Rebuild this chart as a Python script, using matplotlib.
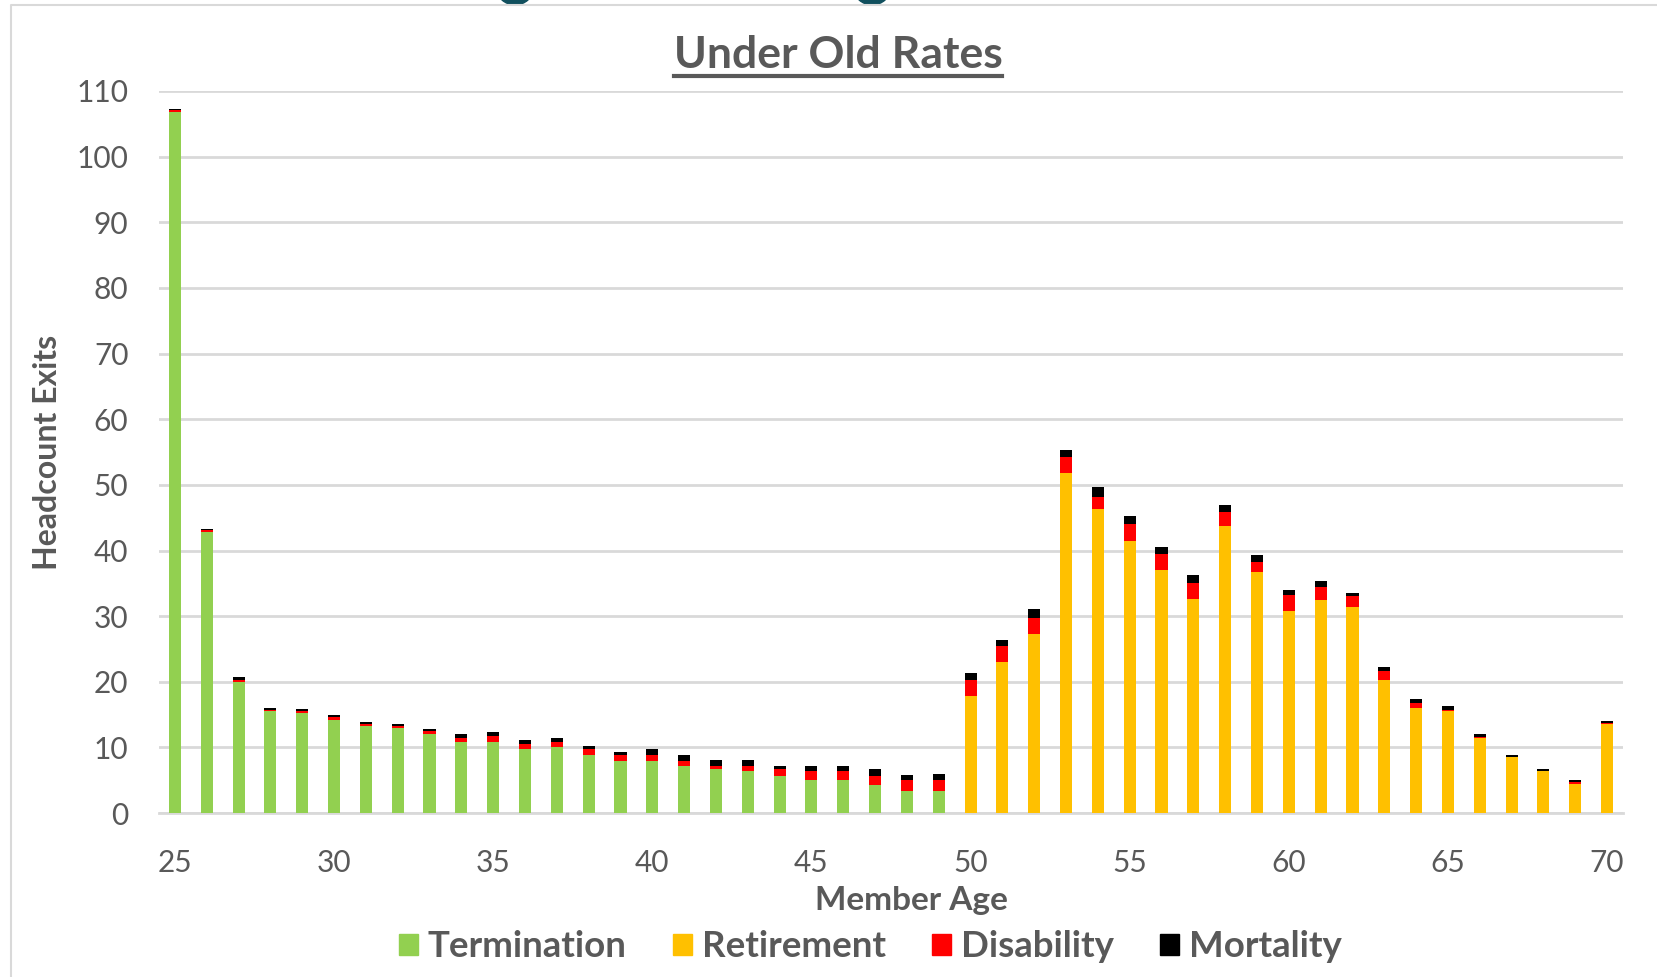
import numpy as np
import matplotlib
matplotlib.use("Agg")
import matplotlib.pyplot as plt
from matplotlib.patches import Rectangle, Ellipse
from matplotlib.lines import Line2D

plt.rcParams['font.family'] = ['Lato', 'DejaVu Sans']

# data (headcount exits by member age)
ages = list(range(25, 71))
termination = [106.8, 42.8, 20.0, 15.5, 15.2, 14.2, 13.3, 13.0, 12.0, 10.9,
               10.9, 9.8, 10.0, 8.9, 8.0, 8.0, 7.2, 6.7, 6.4, 5.6,
               5.1, 5.1, 4.3, 3.4, 3.4] + [0] * 21
retirement = [0] * 25 + [17.9, 23.0, 27.3, 51.8, 46.3, 41.5, 37.0, 32.6, 43.7, 36.7,
                         30.8, 32.4, 31.4, 20.3, 16.0, 15.5, 11.4, 8.5, 6.35, 4.5, 13.6]
disability = [0.3, 0.3, 0.3, 0.2, 0.3, 0.4, 0.3, 0.3, 0.5, 0.6,
              0.8, 0.8, 0.8, 0.9, 0.8, 0.8, 0.8, 0.5, 0.8, 1.1,
              1.3, 1.3, 1.3, 1.6, 1.7, 2.4, 2.4, 2.4, 2.4, 1.9,
              2.6, 2.4, 2.4, 2.1, 1.6, 2.4, 2.1, 1.6, 1.4, 0.8,
              0.25, 0.25, 0.1, 0.1, 0.25, 0.1]
mortality = [0.2, 0.2, 0.5, 0.3, 0.3, 0.3, 0.3, 0.3, 0.3, 0.5,
             0.6, 0.5, 0.6, 0.5, 0.5, 0.9, 0.8, 0.9, 0.9, 0.5,
             0.8, 0.8, 1.2, 0.8, 0.8, 1.1, 0.9, 1.4, 1.1, 1.4,
             1.1, 1.1, 1.2, 1.1, 1.0, 0.8, 0.9, 0.6, 0.6, 0.6,
             0.6, 0.35, 0.25, 0.3, 0.35, 0.3]

series = ['Termination', 'Retirement', 'Disability', 'Mortality']
colors = ['#92d050', '#ffc000', '#ff0000', '#000000']
GRAY = '#595959'
GRID = '#d9d9d9'

fig = plt.figure(figsize=(16.58, 9.77), dpi=100)
ax = fig.add_axes([0.0959, 0.1677, 0.883, 0.7393])

# stacked bars
bottom = np.zeros(len(ages))
for name, vals, c in zip(series, [termination, retirement, disability, mortality], colors):
    vals = np.array(vals, dtype=float)
    ax.bar(ages, vals, bottom=bottom, width=0.38, color=c, label=name, zorder=3)
    bottom += vals

ax.set_xlim(24.5, 70.5)
ax.set_ylim(0, 110)
ax.set_yticks(range(0, 111, 10))
ax.set_xticks(range(25, 71, 5))
ax.yaxis.grid(True, color=GRID, linewidth=2.0, zorder=0)
ax.set_axisbelow(True)
for s in ['top', 'right', 'left']:
    ax.spines[s].set_visible(False)
ax.spines['bottom'].set_color(GRID)
ax.spines['bottom'].set_linewidth(2.0)
ax.tick_params(axis='both', length=0, labelsize=21.5, labelcolor=GRAY)
ax.tick_params(axis='y', pad=22)
ax.tick_params(axis='x', pad=26)

ax.set_xlabel('Member Age', fontsize=24, fontweight='bold', color=GRAY)
ax.xaxis.set_label_coords(0.514, -0.101)
ax.set_ylabel('Headcount Exits', fontsize=23, fontweight='bold', color=GRAY)
ax.yaxis.set_label_coords(-0.066, 0.5)

# title with underline
title = fig.text(0.5055, 0.944, 'Under Old Rates', fontsize=32, fontweight='bold',
                 color=GRAY, ha='center', va='center')
fig.canvas.draw()
bb = title.get_window_extent().transformed(fig.transFigure.inverted())
fig.add_artist(Line2D([bb.x0, bb.x1], [bb.y0 - 0.001, bb.y0 - 0.001],
                      transform=fig.transFigure, color=GRAY, linewidth=3))

# legend
handles = [Rectangle((0, 0), 1, 1, color=c) for c in colors]
fig.legend(handles, series, loc='center', bbox_to_anchor=(0.525, 0.031), ncol=4,
           frameon=False, handlelength=0.52, handleheight=0.52,
           handletextpad=0.26, columnspacing=1.27, labelcolor=GRAY,
           prop={'weight': 'bold', 'size': 26.4})

# chart-area border and cut-off slide title glyphs at the top
fig.add_artist(Line2D([0.0066, 0.0066, 1.0], [0.0, 0.9945, 0.9945],
                      transform=fig.transFigure, color=GRID, linewidth=1.5))
for cx in [0.3106, 0.526]:
    fig.add_artist(Ellipse((cx, 1.012), 0.022, 0.034, transform=fig.transFigure,
                           color='#11505e'))

fig.savefig('out.png', dpi=100)
